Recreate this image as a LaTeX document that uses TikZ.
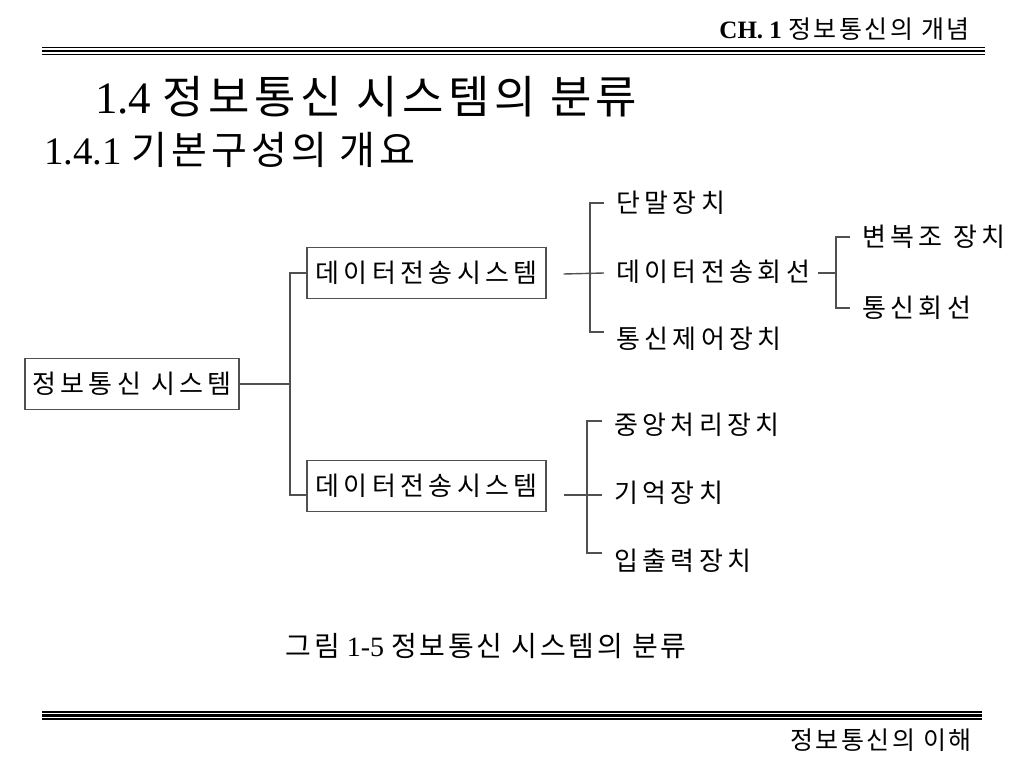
\documentclass[tikz,border=0pt]{standalone}
\usepackage{fontspec}
\setmainfont{Liberation Serif}
\newfontfamily\kr[LetterSpace=10]{Noto Sans CJK KR}
\newfontfamily\krw[LetterSpace=17]{Noto Sans CJK KR}
\usepackage{xcolor}
\usepackage{tikz}
\usetikzlibrary{positioning}

\definecolor{linegray}{RGB}{80,80,80}

\begin{document}
\begin{tikzpicture}[x=1pt, y=-1pt,
    box/.style={rectangle, draw=linegray, line width=1.2pt, inner sep=0pt, minimum height=51pt, font=\krw\fontsize{26}{30}\selectfont},
    leaf/.style={anchor=west, inner xsep=12pt, inner ysep=0pt, font=\krw\fontsize{26}{30}\selectfont},
    conn/.style={draw=linegray, line width=1.4pt}
]
    \fill[white] (0,0) rectangle (1024,768);
    \useasboundingbox (0,0) rectangle (1024,768);

    % header and footer rules
    \draw[line width=1.1pt] (42,47.5) -- (985,47.5);
    \draw[line width=2.6pt] (42,51) -- (985,51);
    \draw[line width=1.1pt] (42,54.5) -- (985,54.5);
    \draw[line width=1.1pt] (42,712) -- (982,712);
    \draw[line width=2.6pt] (42,715.5) -- (982,715.5);
    \draw[line width=1.1pt] (42,719) -- (982,719);

    \node[anchor=east, inner sep=0pt, font=\fontsize{25}{28}\selectfont] (chap) at (970,29) {\textbf{CH. 1} {\kr 정보통신의 개념}};
    \node[anchor=east, inner sep=0pt, font=\kr\fontsize{25}{28}\selectfont] (book) at (972,740) {정보통신의 이해};

    \node[anchor=west, inner sep=0pt, font=\fontsize{45}{50}\selectfont] (title) at (95,97) {1.4 {\kr 정보통신 시스템의 분류}};
    \node[anchor=west, inner sep=0pt, font=\fontsize{39}{44}\selectfont] (subtitle) at (44,150) {1.4.1 {\kr 기본구성의 개요}};

    % tree
    \node[box, minimum width=214pt] (root) at (132,384) {정보통신 시스템};
    \node[box, minimum width=239pt] (dts1) at (426.5,273) {데이터전송시스템};
    \node[box, minimum width=239pt] (dts2) at (426.5,486) {데이터전송시스템};

    \node[leaf] (term) at (604,203) {단말장치};
    \node[leaf] (line) at (604,272) {데이터전송회선};
    \node[leaf] (ctrl) at (604,339) {통신제어장치};
    \node[leaf] (modem) at (850,237) {변복조 장치};
    \node[leaf] (comm) at (850,308) {통신회선};
    \node[leaf] (cpu) at (602,425) {중앙처리장치};
    \node[leaf] (mem) at (602,493) {기억장치};
    \node[leaf] (io) at (602,561) {입출력장치};

    \coordinate (j0) at (290,384);
    \draw[conn] (root.east) -- (j0);
    \draw[conn] (dts1.west) -| (j0) |- ([yshift=-9pt]dts2.west);

    \coordinate (j1) at (590,0);
    \draw[conn] ([xshift=17pt,yshift=-1pt]dts1.east) -- ([yshift=-1pt]line.west);
    \draw[conn] (term.west) -| (j1 |- term) |- ([yshift=7pt]ctrl.west);

    \coordinate (j2) at (836,0);
    \draw[conn] ([xshift=-4pt,yshift=-1pt]line.east) -- ([yshift=-1pt]line.east -| j2);
    \draw[conn] (modem.west) -| (j2 |- modem) |- (comm.west);

    \coordinate (j3) at (587,0);
    \draw[conn] ([xshift=17pt,yshift=-9pt]dts2.east) -- ([yshift=-2pt]mem.west);
    \draw[conn] ([yshift=4pt]cpu.west) -| (j3 |- cpu) |- ([yshift=8pt]io.west);

    \node[inner sep=0pt, font=\fontsize{28}{32}\selectfont] (caption) at (486,646) {{\kr 그림} 1-5 {\kr 정보통신 시스템의 분류}};
\end{tikzpicture}
\end{document}
